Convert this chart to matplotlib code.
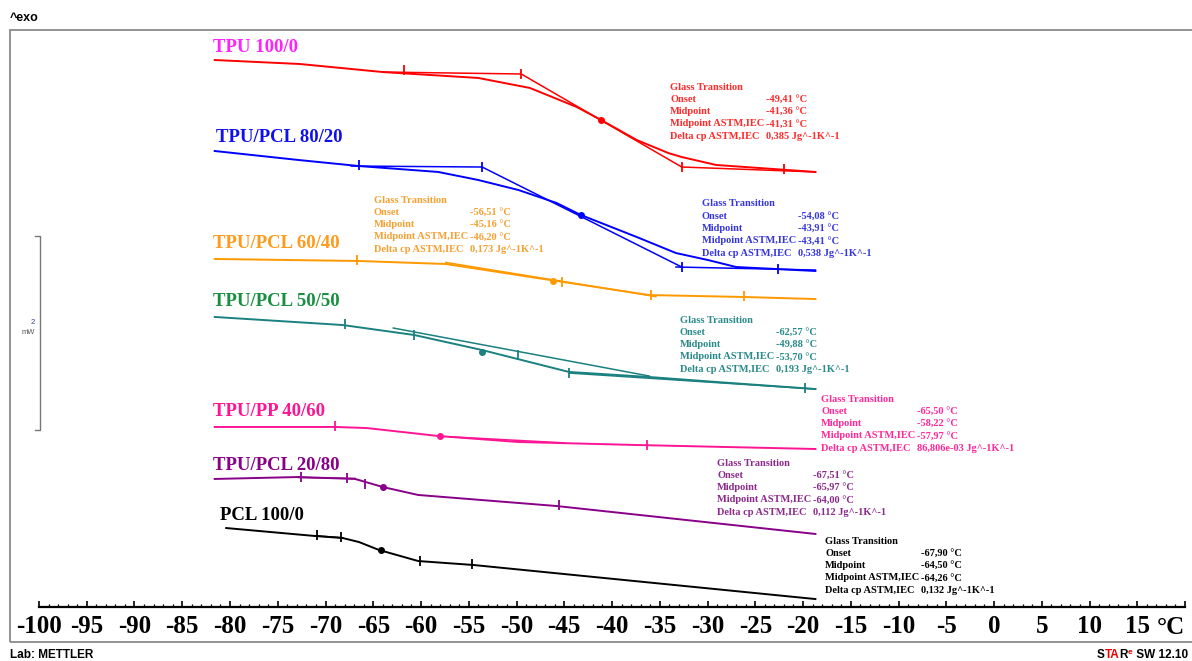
import matplotlib

matplotlib.use("Agg")
import matplotlib.pyplot as plt
from matplotlib.patches import Rectangle

plt.rcParams["axes.unicode_minus"] = False

# ---- data: temperature (°C) and heat flow (mW, arbitrary offset) ----
tpu100_t = [-81.6, -72.7, -64.0, -54.0, -48.6, -43.7, -41.15, -37.4, -34.1, -32.7, -29.1, -18.7]
tpu100_mw = [5.639, 5.598, 5.515, 5.454, 5.351, 5.155, 5.021, 4.814, 4.680, 4.639, 4.557, 4.485]
tpu100_tan_t = [[-64.0, -49.5], [-49.5, -32.7], [-32.7, -18.7]]
tpu100_tan_mw = [[5.515, 5.495], [5.495, 4.536], [4.536, 4.485]]
tpu100_tick_t = [-61.8, -49.5, -32.7, -22.0]
tpu100_tick_mw = [5.537, 5.495, 4.536, 4.516]
tpu100_mid = (-41.15, 5.021)
tpu100_tg = ["-49,41 °C", "-41,36 °C", "-41,31 °C", "0,385 Jg^-1K^-1"]

pcl80_t = [-81.6, -72.8, -66.5, -58.2, -54.0, -49.8, -45.8, -43.25, -37.4, -33.3, -29.95, -27.0, -18.7]
pcl80_mw = [4.701, 4.608, 4.546, 4.485, 4.402, 4.299, 4.165, 4.041, 3.814, 3.649, 3.577, 3.505, 3.464]
pcl80_tan_t = [[-67.3, -53.6], [-53.6, -32.7], [-33.3, -18.7]]
pcl80_tan_mw = [[4.546, 4.536], [4.536, 3.505], [3.505, 3.474]]
pcl80_tick_t = [-66.5, -53.6, -32.7, -22.6]
pcl80_tick_mw = [4.557, 4.536, 3.510, 3.485]
pcl80_mid = (-43.25, 4.041)
pcl80_tg = ["-54,08 °C", "-43,91 °C", "-43,41 °C", "0,538 Jg^-1K^-1"]

pcl60_t = [-81.6, -66.5, -57.4, -45.8, -36.1, -26.2, -18.7]
pcl60_mw = [3.588, 3.567, 3.536, 3.361, 3.216, 3.196, 3.175]
pcl60_tan_t = [[-57.4, -35.4]]
pcl60_tan_mw = [[3.552, 3.200]]
pcl60_tick_t = [-66.7, -45.2, -35.9, -26.2]
pcl60_tick_mw = [3.578, 3.350, 3.216, 3.206]
pcl60_mid = (-46.2, 3.361)
pcl60_tg = ["-56,51 °C", "-45,16 °C", "-46,20 °C", "0,173 Jg^-1K^-1"]

pcl50_t = [-81.6, -68.2, -60.7, -53.6, -44.5, -36.1, -29.1, -18.7]
pcl50_mw = [2.990, 2.907, 2.804, 2.649, 2.423, 2.371, 2.320, 2.247]
pcl50_tan_t = [[-62.9, -36.1], [-44.5, -18.7]]
pcl50_tan_mw = [[2.876, 2.381], [2.412, 2.247]]
pcl50_tick_t = [-68.0, -60.7, -49.8, -44.5, -19.8]
pcl50_tick_mw = [2.918, 2.804, 2.598, 2.412, 2.258]
pcl50_mid = (-53.6, 2.629)
pcl50_tg = ["-62,57 °C", "-49,88 °C", "-53,70 °C", "0,193 Jg^-1K^-1"]

pp40_t = [-81.6, -69.0, -65.7, -58.2, -49.8, -37.4, -18.7]
pp40_mw = [1.856, 1.856, 1.845, 1.763, 1.701, 1.670, 1.629]
pp40_tan_t = [[-57.0, -45.0]]
pp40_tan_mw = [[1.755, 1.692]]
pp40_tick_t = [-69.0, -36.3]
pp40_tick_mw = [1.867, 1.675]
pp40_mid = (-58.0, 1.763)
pp40_tg = ["-65,50 °C", "-58,22 °C", "-57,97 °C", "86,806e-03 Jg^-1K^-1"]

pcl20_t = [-81.6, -72.8, -66.9, -64.0, -60.3, -45.8, -18.7]
pcl20_mw = [1.320, 1.340, 1.320, 1.237, 1.155, 1.041, 0.753]
pcl20_tan_t = [[-72.8, -66.9]]
pcl20_tan_mw = [[1.335, 1.325]]
pcl20_tick_t = [-72.6, -67.75, -65.9, -45.55]
pcl20_tick_mw = [1.340, 1.325, 1.268, 1.047]
pcl20_mid = (-64.0, 1.237)
pcl20_tg = ["-67,51 °C", "-65,97 °C", "-64,00 °C", "0,112 Jg^-1K^-1"]

pcl100_t = [-80.4, -71.1, -68.2, -66.5, -64.4, -60.3, -54.5, -18.7]
pcl100_mw = [0.814, 0.732, 0.711, 0.670, 0.588, 0.474, 0.433, 0.082]
pcl100_tan_t = [[-71.1, -68.2]]
pcl100_tan_mw = [[0.735, 0.714]]
pcl100_tick_t = [-70.9, -68.4, -60.1, -54.7]
pcl100_tick_mw = [0.743, 0.717, 0.474, 0.444]
pcl100_mid = (-64.2, 0.588)
pcl100_tg = ["-67,90 °C", "-64,50 °C", "-64,26 °C", "0,132 Jg^-1K^-1"]

names = ["TPU 100/0", "TPU/PCL 80/20", "TPU/PCL 60/40", "TPU/PCL 50/50",
         "TPU/PP 40/60", "TPU/PCL 20/80", "PCL 100/0"]
xticks = list(range(-100, 21, 5))
xtick_labels = [str(v) for v in range(-100, 16, 5)] + [""]
row_names = ["Glass Transition", "Onset", "Midpoint", "Midpoint ASTM,IEC", "Delta cp ASTM,IEC"]

# ---- styling ----
W, H = 1192, 661
SERIF = "Liberation Serif"
SANS = "Liberation Sans"

samples = [
    # curve, tangents, ticks, midpoint, tg, line colour, label colour, text colour, label px, block px
    (tpu100_t, tpu100_mw, tpu100_tan_t, tpu100_tan_mw, tpu100_tick_t, tpu100_tick_mw, tpu100_mid, tpu100_tg,
     "#ff0000", "#ff22ff", "#ff2a2a", (213, 48), (670, 87)),
    (pcl80_t, pcl80_mw, pcl80_tan_t, pcl80_tan_mw, pcl80_tick_t, pcl80_tick_mw, pcl80_mid, pcl80_tg,
     "#0000ff", "#1010ee", "#3636e0", (216, 137), (702, 204)),
    (pcl60_t, pcl60_mw, pcl60_tan_t, pcl60_tan_mw, pcl60_tick_t, pcl60_tick_mw, pcl60_mid, pcl60_tg,
     "#ff9900", "#ff9a1a", "#f7a032", (213, 243), (374, 200)),
    (pcl50_t, pcl50_mw, pcl50_tan_t, pcl50_tan_mw, pcl50_tick_t, pcl50_tick_mw, pcl50_mid, pcl50_tg,
     "#1a8080", "#16903f", "#2a8a8a", (213, 302), (680, 320)),
    (pp40_t, pp40_mw, pp40_tan_t, pp40_tan_mw, pp40_tick_t, pp40_tick_mw, pp40_mid, pp40_tg,
     "#ff1493", "#ff1493", "#ff2a9a", (213, 412), (821, 399)),
    (pcl20_t, pcl20_mw, pcl20_tan_t, pcl20_tan_mw, pcl20_tick_t, pcl20_tick_mw, pcl20_mid, pcl20_tg,
     "#880088", "#880088", "#8b2a8b", (213, 466), (717, 463)),
    (pcl100_t, pcl100_mw, pcl100_tan_t, pcl100_tan_mw, pcl100_tick_t, pcl100_tick_mw, pcl100_mid, pcl100_tg,
     "#000000", "#000000", "#000000", (220, 516), (825, 541)),
]


def fpos(x, y):
    """Figure pixel position -> figure fraction."""
    return x / W, 1 - y / H


fig = plt.figure(figsize=(W / 100, H / 100), dpi=100)
ax = fig.add_axes([39 / W, 1 - 607 / H, (1185 - 39) / W, (607 - 30) / H])
ax.set_xlim(-100, 20)
ax.set_ylim(0, 577 / 97)

for spine in ("top", "left", "right"):
    ax.spines[spine].set_visible(False)
ax.spines["bottom"].set_linewidth(1.6)
ax.set_yticks([])
ax.set_xticks(xticks)
ax.set_xticklabels(xtick_labels, fontfamily=SERIF, fontweight="bold", fontsize=18)
ax.set_xticks(range(-100, 21), minor=True)
ax.tick_params(axis="x", which="major", direction="in", length=4.5, width=1.2, pad=6)
ax.tick_params(axis="x", which="minor", direction="in", length=2.5, width=0.9)
fig.text(*fpos(1171, 628), "°C", ha="center", va="center",
         fontfamily=SERIF, fontweight="bold", fontsize=18)

for (ct, cm, tt, tm, kt, km, mid, tg, lc, labc, txc, lab_px, blk_px), name in zip(samples, names):
    ax.plot(ct, cm, color=lc, lw=1.4, solid_joinstyle="round")
    for seg_t, seg_m in zip(tt, tm):
        ax.plot(seg_t, seg_m, color=lc, lw=1.1)
    ax.plot(kt, km, ls="none", marker="|", ms=7, mew=1.3, color=lc)
    ax.plot([mid[0]], [mid[1]], ls="none", marker="o", ms=4, color=lc)

    fig.text(*fpos(*lab_px), name, color=labc, fontfamily=SERIF, fontweight="bold",
             fontsize=13.5, ha="left", va="center")

    bx, by = blk_px
    for i, row in enumerate(row_names):
        fig.text(*fpos(bx, by + i * 12.3), row, color=txc, fontfamily=SERIF,
                 fontweight="bold", fontsize=7.5, ha="left", va="center")
        if i > 0:
            fig.text(*fpos(bx + 96, by + i * 12.3), tg[i - 1], color=txc, fontfamily=SERIF,
                     fontweight="bold", fontsize=7.5, ha="left", va="center")

# 2 mW scale bar
bar_lo = (607 - 430) / 97
bar_hi = bar_lo + 2
ax.plot([-100.45, -99.9, -99.9, -100.45], [bar_hi, bar_hi, bar_lo, bar_lo],
        color="#777777", lw=1.0, clip_on=False)
fig.text(*fpos(35, 322), "2", fontsize=5.5, color="#334488", ha="right", va="center", fontfamily=SANS)
fig.text(*fpos(35, 332), "mW", fontsize=5.5, color="#555555", ha="right", va="center", fontfamily=SANS)

# outer frame and captions
fig.add_artist(Rectangle(fpos(10, 642), (1200 - 10) / W, (642 - 30) / H, transform=fig.transFigure,
                         fill=False, edgecolor="#8a8a8a", lw=1.3))
fig.text(*fpos(10, 18), "^exo", fontfamily=SANS, fontweight="bold", fontsize=9, ha="left", va="center")
fig.text(*fpos(10, 655), "Lab: METTLER", fontfamily=SANS, fontweight="bold", fontsize=8.5,
         ha="left", va="center")

# STARe SW 12.10, built piece by piece
pieces = [("S", "#000000", 8.5, 0), ("TA", "#ee0000", 8.5, 0), ("R", "#000000", 8.5, 0),
          ("e", "#ee0000", 6, 3), (" SW 12.10", "#000000", 8.5, 0)]
renderer = fig.canvas.get_renderer()
widths = []
for txt, col, fs, dy in pieces:
    t = fig.text(0, 0, txt, fontfamily=SANS, fontweight="bold", fontsize=fs)
    widths.append(t.get_window_extent(renderer).width)
    t.remove()
x = 1188 - sum(widths)
for (txt, col, fs, dy), w in zip(pieces, widths):
    fig.text(*fpos(x, 655 - dy), txt, color=col, fontfamily=SANS, fontweight="bold",
             fontsize=fs, ha="left", va="center")
    x += w

fig.savefig("out.png", dpi=100)
